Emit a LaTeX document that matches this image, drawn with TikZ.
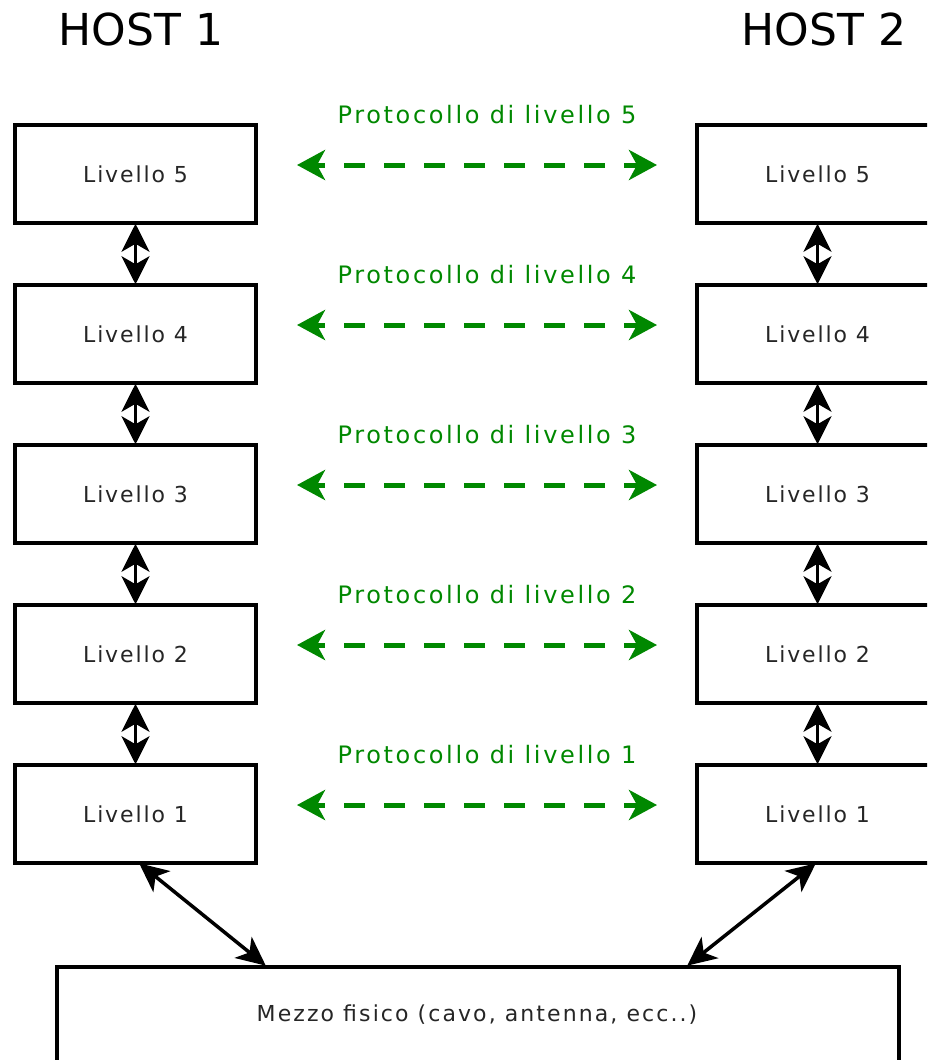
\documentclass[tikz,border=0pt]{standalone}
\usepackage{fontspec}
\setmainfont{DejaVu Sans}
\newfontfamily\labelfont[LetterSpace=8.5]{DejaVu Sans}
\newfontfamily\mediumfont[LetterSpace=9.5]{DejaVu Sans}
\newfontfamily\protofont[LetterSpace=11]{DejaVu Sans}
\usetikzlibrary{arrows.meta}
\definecolor{protogreen}{RGB}{0,136,0}
\begin{document}
\begin{tikzpicture}[x=1pt,y=-1pt,
  layer/.style={draw=black,line width=3.5pt,fill=white,minimum width=241pt,minimum height=98pt,inner sep=0pt,font=\labelfont\fontsize{22}{26}\selectfont,text=black!85},
  host/.style={font=\fontsize{44}{53}\selectfont},
  proto/.style={font=\protofont\fontsize{24}{29}\selectfont,text=protogreen},
  updown/.style={line width=3.5pt,{Stealth[length=28pt,width=28pt,inset=8pt]}-{Stealth[length=28pt,width=28pt,inset=8pt]},shorten <=-1pt,shorten >=-1pt},
  peer/.style={protogreen,line width=5pt,dash pattern=on 21pt off 19pt,dash phase=11pt,{Stealth[length=28pt,width=30pt,inset=8pt]}-{Stealth[length=28pt,width=30pt,inset=8pt]}},
  wire/.style={line width=3.5pt,{Stealth[length=29pt,width=27pt,inset=8pt]}-{Stealth[length=29pt,width=27pt,inset=8pt]},shorten <=-1pt,shorten >=-1pt}]
\useasboundingbox (0,0) rectangle (927,1060);
\begin{scope}
\clip (0,0) rectangle (927,1060);
% host titles
\node[host] (h1) at (141,29) {HOST 1};
\node[host] (h2) at (824,29) {HOST 2};
% protocol stacks
\foreach \i/\y in {5/174,4/334,3/494,2/654,1/814}{
  \node[layer] (l\i) at (135.5,\y) {Livello \i};
  \node[layer] (r\i) at (817.5,\y) {Livello \i};
}
% physical medium
\node[layer,minimum width=842pt,minimum height=140pt,anchor=north west] (mezzo) at (55,965) {};
\node[text=black!85,font=\mediumfont\fontsize{22}{26}\selectfont] (mt) at (477,1015) {Mezzo fisico (cavo, antenna, ecc..)};
% vertical interfaces
\foreach \a/\b in {5/4,4/3,3/2,2/1}{
  \draw[updown] (l\a.south) -- (l\b.north);
  \draw[updown] (r\a.south) -- (r\b.north);
}
% peer protocols
\foreach \i/\y in {5/165,4/325,3/485,2/645,1/805}{
  \coordinate (pa\i) at (297,\y);
  \coordinate (pb\i) at (657,\y);
  \draw[peer] (pa\i) -- (pb\i);
  \node[proto] (pl\i) at (487,\y-50) {Protocollo di livello \i};
}
% links to the medium
\coordinate (m1) at (265,965);
\coordinate (m2) at (688,965);
\coordinate (s1) at (140,864);
\coordinate (s2) at (815,864);
\draw[wire] (s1) -- (m1);
\draw[wire] (s2) -- (m2);
\end{scope}
\end{tikzpicture}
\end{document}
